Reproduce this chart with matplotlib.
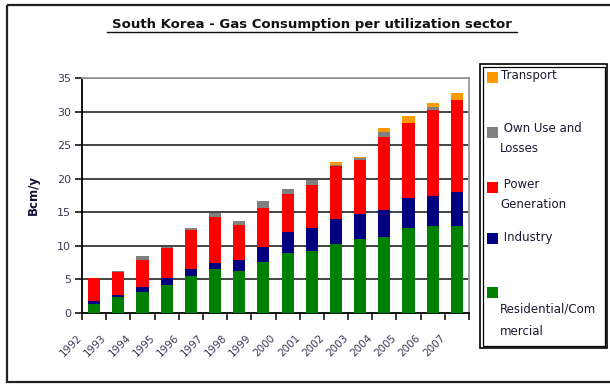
import matplotlib
matplotlib.use("Agg")
import matplotlib.pyplot as plt
from matplotlib.patches import Rectangle
from matplotlib.lines import Line2D
import matplotlib.transforms as mtransforms
import numpy as np

plt.rcParams['font.family'] = ['DejaVu Sans']

years = ['1992', '1993', '1994', '1995', '1996', '1997', '1998', '1999',
         '2000', '2001', '2002', '2003', '2004', '2005', '2006', '2007']
residential = [1.4, 2.4, 3.2, 4.2, 5.5, 6.5, 6.2, 7.6, 8.9, 9.2, 10.3, 11.0, 11.3, 12.6, 12.9, 12.9]
industry = [0.35, 0.35, 0.6, 1.0, 1.0, 1.0, 1.75, 2.3, 3.1, 3.4, 3.7, 3.7, 4.1, 4.5, 4.5, 5.1]
power = [3.4, 3.4, 4.1, 4.45, 5.85, 6.8, 5.1, 5.8, 5.7, 6.45, 7.85, 8.1, 10.8, 11.2, 12.9, 13.65]
own_use = [0.05, 0.1, 0.65, 0.2, 0.25, 0.6, 0.7, 1.0, 0.7, 0.75, 0.2, 0.35, 0.7, 0.05, 0.4, 0.1]
transport = [0, 0, 0, 0, 0, 0, 0, 0, 0, 0, 0.45, 0.1, 0.7, 0.95, 0.6, 0.95]

series = [residential, industry, power, own_use, transport]
colors = ['#008000', '#000080', '#FF0000', '#808080', '#FF9900']
legend_labels = ['Transport', ' Own Use and\nLosses', ' Power\nGeneration', ' Industry',
                 'Residential/Com\nmercial']
legend_colors = ['#FF9900', '#808080', '#FF0000', '#000080', '#008000']
title = 'South Korea - Gas Consumption per utilization sector'
ylabel = 'Bcm/y'
yticks = [0, 5, 10, 15, 20, 25, 30, 35]

W, H = 610, 384
fig = plt.figure(figsize=(W / 100, H / 100), dpi=100)

# overlay axes in pixel coordinates for frame, title, legend
ov = fig.add_axes([0, 0, 1, 1], zorder=0)
ov.set_xlim(0, W)
ov.set_ylim(H, 0)
ov.axis('off')

ov.add_patch(Rectangle((7, 5), 620, 377, fill=False, edgecolor='#222222', lw=1.6))

ov.text(312, 24.5, title, ha='center', va='center', fontsize=9.5, fontweight='bold', color='#111111')
ov.add_line(Line2D([107, 517], [31.5, 31.5], color='#111111', lw=1.0))

# legend box
ov.add_patch(Rectangle((480, 64), 127, 284, fill=False, edgecolor='black', lw=1.2))
ov.add_patch(Rectangle((482.5, 66.5), 122, 279, fill=False, edgecolor='black', lw=0.9))
clip = Rectangle((483, 67), 121, 278, transform=ov.transData, visible=False)
ov.add_patch(clip)
sq_y = [72, 127, 182, 233, 287]
txt_y = [75, 138.5, 194, 237, 320.5]
spacing = [1.7, 1.7, 1.7, 1.7, 1.9]
txt_x = [501, 500, 500, 500, 500]
for lab, c, sy, ty, ls, tx in zip(legend_labels, legend_colors, sq_y, txt_y, spacing, txt_x):
    ov.add_patch(Rectangle((487, sy), 10.5, 11, facecolor=c, edgecolor='none'))
    t = ov.text(tx, ty, lab, ha='left', va='center', fontsize=8.5, color='#1a1a33',
                linespacing=ls)
    t.set_clip_path(clip)

# main axes
L, R, T, B = 82, 469, 78, 313
ax = fig.add_axes([L / W, 1 - B / H, (R - L) / W, (B - T) / H], zorder=1)
ax.patch.set_alpha(0)
x = np.arange(len(years))
bottom = np.zeros(len(years))
for vals, c in zip(series, colors):
    ax.bar(x, vals, width=0.5, bottom=bottom, color=c, edgecolor='none', zorder=3)
    bottom += np.array(vals)

ax.set_xlim(-0.5, len(years) - 0.5)
ax.set_ylim(0, 35)
ax.set_yticks(yticks)
ax.set_yticklabels([str(v) for v in yticks], fontsize=8, color='#3a3a5a')
for v in yticks[1:]:
    ax.axhline(v, color='#111111', lw=1.1, zorder=2)

ax.set_xticks(x)
ax.set_xticklabels([])
ax.tick_params(axis='x', length=0, pad=0)
offset = mtransforms.ScaledTranslation(-10 / 100, -20 / 100, fig.dpi_scale_trans)
for xi, yr in zip(x, years):
    ax.text(xi, 0, yr, transform=ax.get_xaxis_transform() + offset, rotation=45,
            ha='right', va='top', fontsize=7.5, color='#3a3a5a', clip_on=False)
ax.set_xticks(np.arange(-0.5, len(years) + 0.5, 1), minor=True)
ax.tick_params(axis='x', which='minor', length=5, width=1.1, direction='out', color='black')
ax.tick_params(axis='y', length=5, width=1.1, direction='out', color='black', pad=3)

for s in ['left', 'bottom']:
    ax.spines[s].set_color('black')
    ax.spines[s].set_linewidth(1.3)
for s in ['top', 'right']:
    ax.spines[s].set_color('#999999')
    ax.spines[s].set_linewidth(1.3)

ov.text(33, 195, ylabel, rotation=90, ha='center', va='center', fontsize=8.5,
        fontweight='bold', color='#111133')

fig.savefig('out.png', dpi=100)
